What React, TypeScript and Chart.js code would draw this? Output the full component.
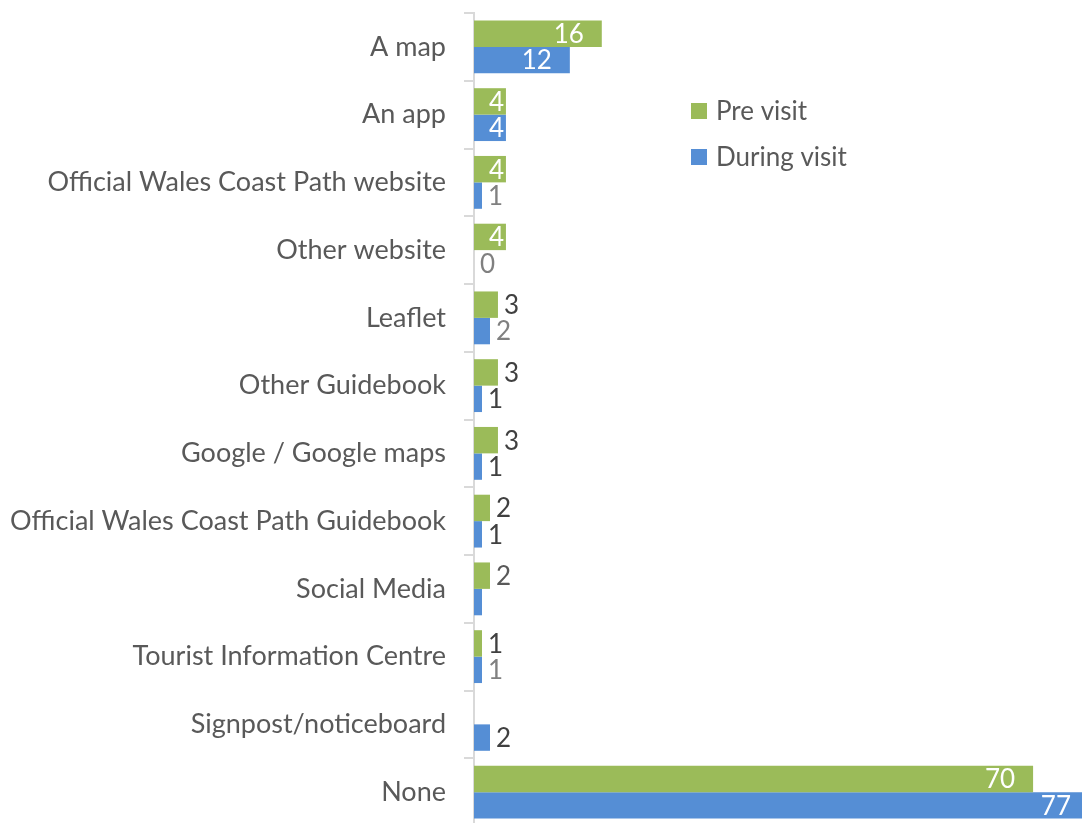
import React, { useEffect, useRef } from "react";
import { Chart, registerables } from "chart.js";

Chart.register(...registerables);

const categories = [
  "A map",
  "An app",
  "Official Wales Coast Path website",
  "Other website",
  "Leaflet",
  "Other Guidebook",
  "Google / Google maps",
  "Official Wales Coast Path Guidebook",
  "Social Media",
  "Tourist Information Centre",
  "Signpost/noticeboard",
  "None",
];
const preVisit = [16, 4, 4, 4, 3, 3, 3, 2, 2, 1, 0, 70];
const duringVisit = [12, 4, 1, 0, 2, 1, 1, 1, 1, 1, 2, 77];
// label shown? (style of data labels as in the reference)
const preLabelShown = [true, true, true, true, true, true, true, true, true, true, false, true];
const duringLabelShown = [true, true, true, true, true, true, true, true, false, true, true, true];
const preLabelColor = ["#fff", "#fff", "#fff", "#fff", "#404040", "#404040", "#404040", "#404040", "#595959", "#404040", "#404040", "#fff"];
const duringLabelColor = ["#fff", "#fff", "#808080", "#808080", "#808080", "#404040", "#404040", "#404040", "#404040", "#808080", "#404040", "#fff"];
const seriesNames = ["Pre visit", "During visit"];

const GREEN = "#9bbb59";
const BLUE = "#558ed5";
const FONT = "Lato, 'Noto Sans', sans-serif";

const labelPlugin = {
  id: "barLabels",
  afterDatasetsDraw(chart: any) {
    const ctx = chart.ctx;
    ctx.save();
    ctx.font = `26px ${FONT}`;
    ctx.textBaseline = "middle";
    ctx.textAlign = "left";
    const shown = [preLabelShown, duringLabelShown];
    const colors = [preLabelColor, duringLabelColor];
    chart.data.datasets.forEach((ds: any, di: number) => {
      const meta = chart.getDatasetMeta(di);
      meta.data.forEach((bar: any, i: number) => {
        if (!shown[di][i]) return;
        const v = ds.data[i];
        const txt = String(v);
        const w = ctx.measureText(txt).width;
        const color = colors[di][i];
        let x: number;
        if (color === "#fff") {
          x = Math.max(bar.x - 18 - w, bar.base + 15);
        } else {
          x = bar.x + 6;
        }
        ctx.fillStyle = color;
        ctx.fillText(txt, x, bar.y + 1);
      });
    });
    // legend
    const items = [
      { c: GREEN, t: seriesNames[0], y: 111 },
      { c: BLUE, t: seriesNames[1], y: 157 },
    ];
    ctx.font = `26px ${FONT}`;
    items.forEach((it) => {
      ctx.fillStyle = it.c;
      ctx.fillRect(691, it.y - 8, 16, 16);
      ctx.fillStyle = "#595959";
      ctx.fillText(it.t, 716, it.y + 1);
    });
    ctx.restore();
  },
};

export default function App() {
  const ref = useRef<HTMLCanvasElement>(null);
  useEffect(() => {
    document.body.style.margin = "0";
    const chart = new Chart(ref.current!, {
      type: "bar",
      data: {
        labels: categories,
        datasets: [
          { label: seriesNames[0], data: preVisit, backgroundColor: GREEN, categoryPercentage: 0.78, barPercentage: 1 },
          { label: seriesNames[1], data: duringVisit, backgroundColor: BLUE, categoryPercentage: 0.78, barPercentage: 1 },
        ],
      },
      options: {
        indexAxis: "y",
        responsive: false,
        animation: false,
        layout: { padding: { top: 13, bottom: 4, right: 11, left: 0 } },
        plugins: { legend: { display: false }, tooltip: { enabled: false } },
        scales: {
          x: { display: false, min: 0, max: 77 },
          y: {
            afterFit(scale: any) {
              scale.width = 474;
              scale.paddingTop = 0;
              scale.paddingBottom = 0;
            },
            grid: {
              drawOnChartArea: false,
              drawTicks: true,
              tickLength: 10,
              color: "#d9d9d9",
              lineWidth: 2,
            },
            border: { display: true, color: "#d9d9d9", width: 2 },
            ticks: {
              color: "#595959",
              padding: 18,
              font: { family: FONT, size: 27 },
            },
          },
        },
      },
      plugins: [labelPlugin],
    });
    return () => chart.destroy();
  }, []);
  return (
    <div style={{ position: "absolute", left: 0, top: 0, width: 1082, height: 823, overflow: "hidden", background: "#fff" }}>
      <canvas ref={ref} width={1100} height={830} style={{ display: "block" }} />
    </div>
  );
}
